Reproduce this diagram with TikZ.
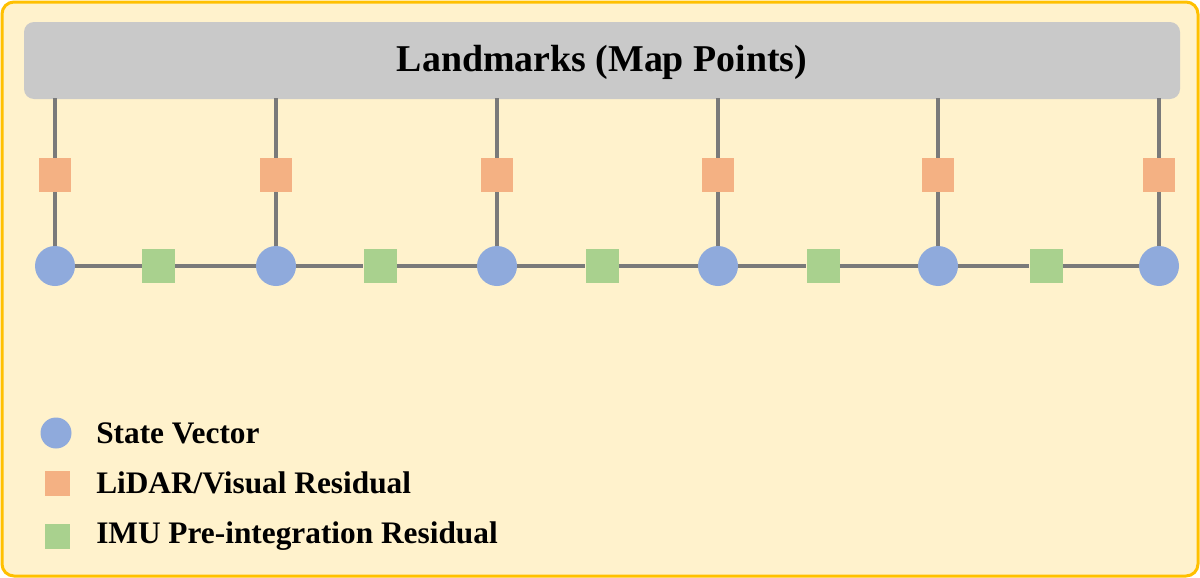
\documentclass[tikz,border=0pt]{standalone}
\usepackage{fontspec}
\setmainfont{Liberation Serif}
\definecolor{bgfill}{HTML}{FFF2CC}
\definecolor{bgline}{HTML}{FFC000}
\definecolor{barfill}{HTML}{C9C9C9}
\definecolor{conn}{HTML}{7A7A7A}
\definecolor{stateblue}{HTML}{8FAADC}
\definecolor{lidarorange}{HTML}{F4B183}
\definecolor{imugreen}{HTML}{A9D18E}
\tikzset{
  statenode/.style={circle, fill=stateblue, draw=none, minimum size=40*0.75pt, inner sep=0pt},
  lidarbox/.style={rectangle, fill=lidarorange, draw=none, minimum width=32*0.75pt, minimum height=34*0.75pt, inner sep=0pt},
  imubox/.style={rectangle, fill=imugreen, draw=none, minimum width=33*0.75pt, minimum height=34*0.75pt, inner sep=0pt},
  edge/.style={draw=conn, line width=3.3*0.75pt},
  legtext/.style={anchor=west, inner sep=0pt, font=\fontsize{23.5}{28}\selectfont\bfseries},
}
\begin{document}
\begin{tikzpicture}[x=0.75pt, y=-0.75pt]
\useasboundingbox (0,0) rectangle (1200,578);
\draw[fill=bgfill, draw=bgline, line width=3*0.75pt, rounded corners=12*0.75pt] (2,2) rectangle (1198,576);
\node[fill=barfill, draw=none, rounded corners=10*0.75pt, minimum width=1156*0.75pt, minimum height=77*0.75pt, inner sep=0pt] (bar) at (602,60.5) {};
\node[font=\fontsize{28.4}{34}\selectfont\bfseries] (title) at (602,62) {Landmarks (Map Points)};
\foreach \i/\x in {1/55,2/276,3/497,4/718,5/938,6/1159}{
  \coordinate (top\i) at (\x,98);
  \node[statenode] (s\i) at (\x,266) {};
  \node[lidarbox] (l\i) at (\x,175) {};
}
\foreach \i/\x in {1/158.5,2/380,3/602,4/823,5/1046}{
  \node[imubox] (m\i) at (\x,266) {};
}
\foreach \i in {1,...,6}{
  \draw[edge] (top\i) -- (l\i.north);
  \draw[edge] (l\i.south) -- (s\i.north);
}
\foreach \i/\j in {1/2,2/3,3/4,4/5,5/6}{
  \draw[edge] (s\i.east) -- (m\i.west);
  \draw[edge] (m\i.east) -- (s\j.west);
}
\node[circle, fill=stateblue, minimum size=31*0.75pt, inner sep=0pt] (lgs) at (56,433) {};
\node[rectangle, fill=lidarorange, minimum size=25*0.75pt, inner sep=0pt] (lgl) at (57,483) {};
\node[rectangle, fill=imugreen, minimum size=25*0.75pt, inner sep=0pt] (lgm) at (57,536) {};
\node[legtext] (ts) at (96,433) {State Vector};
\node[legtext] (tl) at (96,483) {LiDAR/Visual Residual};
\node[legtext] (tm) at (96,536) {IMU Pre-integration Residual};
\end{tikzpicture}
\end{document}
